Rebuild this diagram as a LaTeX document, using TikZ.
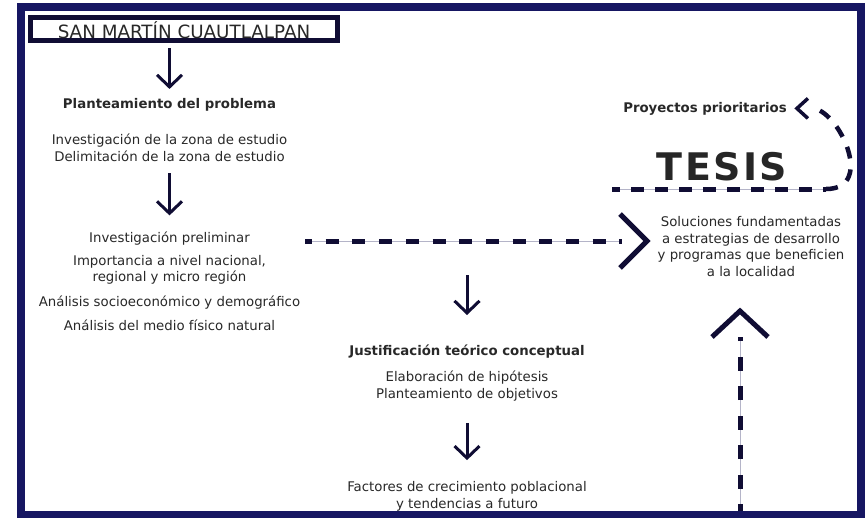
\documentclass[tikz,border=0pt]{standalone}
\usepackage{fontspec}
\setmainfont{DejaVu Sans}
\usepackage{tikz}
\usetikzlibrary{arrows.meta}

\definecolor{navy}{RGB}{22,22,98}
\definecolor{ink}{RGB}{16,13,52}
\definecolor{txt}{RGB}{40,40,40}
\definecolor{guide}{RGB}{180,180,200}

\begin{document}
\begin{tikzpicture}[x=1pt, y=-1pt,
    every node/.style={inner sep=0pt, text=txt, align=center, font=\fontsize{13.3}{16.5}\selectfont},
    head/.style={font=\fontsize{13.3}{16.5}\selectfont\bfseries},
    titlebox/.style={draw=ink, line width=5pt, minimum width=307pt, minimum height=23.3pt,
      text height=17.6pt, text depth=0pt, font=\fontsize{18.3}{20}\selectfont},
    tesis/.style={text=black!85, font=\fontsize{38}{40}\selectfont\bfseries},
    arr/.style={draw=ink, line width=3pt, -{Straight Barb[length=12pt,width=25pt]}},
    dlink/.style={draw=ink, line width=5pt, dash pattern=on 13pt off 13.7pt,
      preaction={draw=guide, line width=0.8pt, solid}},
    dloop/.style={draw=ink, line width=4.5pt, dash pattern=on 12pt off 11pt},
    chev/.style={draw=ink, line width=5pt}]
      \useasboundingbox (0,0) rectangle (865,517);
      \draw[navy, line width=8pt] (21,7) rectangle (861,515);
      % left column
      \node[titlebox] (11) at (184,29.2) {SAN MARTÍN CUAUTLALPAN};
      \node[head] (21) at (169.5,104.4) {Planteamiento del problema};
      \node (31) at (169.5,147.8) {Investigación de la zona de estudio\\Delimitación de la zona de estudio};
      \node (41) at (169.5,238.1) {Investigación preliminar};
      \node (51) at (169.5,269.6) {Importancia a nivel nacional,\\regional y micro región};
      \node (61) at (169.5,302.2) {Análisis socioeconómico y demográfico};
      \node (71) at (169.5,325.7) {Análisis del medio físico natural};
      % middle column
      \node[head] (52) at (467,351.1) {Justificación teórico conceptual};
      \node (62) at (467,386) {Elaboración de hipótesis\\Planteamiento de objetivos};
      \node (72) at (467,496.3) {Factores de crecimiento poblacional\\y tendencias a futuro};
      % right column
      \node[head] (13) at (705,108.4) {Proyectos prioritarios};
      \node[tesis] (23) at (722,166.5) {T\kern2.5pt E\kern2.5pt S\kern2.5pt I\kern2.5pt S};
      \node (33) at (751,246.4) {Soluciones fundamentadas\\a estrategias de desarrollo\\y programas que beneficien\\a la localidad};
      % free ends
      \coordinate (c1) at (467,275);
      \coordinate (h0) at (305,241);
      \coordinate (h1) at (647,241);
      \coordinate (u0) at (740,511);
      \coordinate (u1) at (740,311);
      \coordinate (t0) at (612,189);
      \coordinate (t1) at (826,189);
      % solid arrows
      \draw[arr, shorten <=4.7pt, shorten >=8.8pt] (11.south -| 21.north) -- (21.north);
      \draw[arr, shorten <=11.6pt, shorten >=15.8pt] (31.south) -- (41.north);
      \draw[arr, shorten >=29.2pt] (c1) -- (52.north);
      \draw[arr, shorten <=21.7pt, shorten >=21.3pt] (62.south) -- (72.north);
      % dashed arrows
      \draw[dlink, dash phase=6pt, shorten >=25pt] (h0) -- (h1);
      \draw[chev] (h1) +(-27,-27) -- (h1) -- +(-27,27);
      \draw[dlink, dash pattern=on 14pt off 15.5pt, dash phase=7pt, shorten >=26pt] (u0) -- (u1);
      \draw[chev] (u1) +(-28,26) -- (u1) -- +(28,26);
      % loop back from the thesis
      \draw[dlink, dash pattern=on 13pt off 11pt, dash phase=5pt] (t0) -- (t1);
      \draw[dloop, shorten >=25pt] (t1) to[out=0, in=0, looseness=1.45] (13.east);
      \draw[chev, line width=3.5pt] (13.east) ++(10,0) +(11,-10) -- +(0,0) -- +(11,10);
    \end{tikzpicture}
\end{document}
